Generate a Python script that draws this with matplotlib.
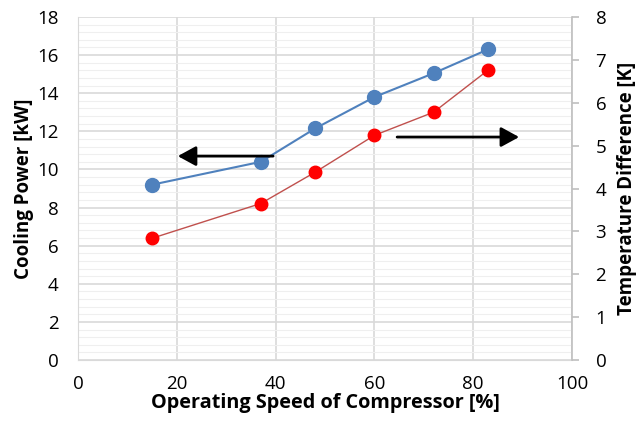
import matplotlib
matplotlib.use("Agg")
import matplotlib.pyplot as plt
from matplotlib.ticker import MultipleLocator
import numpy as np

plt.rcParams['font.family'] = ['Open Sans', 'DejaVu Sans']

# compressor speed [%]
speed = [15, 37, 48, 60, 72, 83]
# cooling power [kW] (left axis)
cooling_power = [9.2, 10.4, 12.15, 13.8, 15.05, 16.3]
# temperature difference [K] (right axis)
temp_diff = [2.84, 3.65, 4.38, 5.24, 5.78, 6.76]

xticks = [0, 20, 40, 60, 80, 100]
yticks_left = [0, 2, 4, 6, 8, 10, 12, 14, 16, 18]
yticks_right = [0, 1, 2, 3, 4, 5, 6, 7, 8]

grid_c = '#d9d9d9'
minor_c = '#efefef'

fig = plt.figure(figsize=(6.4, 4.3), dpi=100)
ax = fig.add_axes([78/640, 1 - 360/430, (572-78)/640, (360-17)/430])
ax2 = ax.twinx()

ax.set_xlim(0, 100)
ax.set_ylim(0, 18)
ax2.set_ylim(0, 8)
ax.set_xticks(xticks)
ax.set_yticks(yticks_left)
ax2.set_yticks(yticks_right)
ax.yaxis.set_minor_locator(MultipleLocator(0.4))

ax.grid(True, which='major', color=grid_c, lw=1.2)
ax.grid(True, which='minor', axis='y', color=minor_c, lw=0.8)
ax.set_axisbelow(True)

for a in (ax, ax2):
    for s in a.spines.values():
        s.set_visible(False)
ax.spines['left'].set_visible(True)
ax.spines['left'].set_color(grid_c)
ax.spines['bottom'].set_visible(True)
ax.spines['bottom'].set_color(grid_c)
ax2.spines['right'].set_visible(True)
ax2.spines['right'].set_color('#bfbfbf')
ax2.spines['right'].set_linewidth(1.2)

ax.tick_params(axis='both', which='both', length=0, labelsize=13.5, colors='black')
ax.tick_params(axis='x', pad=11)
ax.tick_params(axis='y', pad=14)
ax2.tick_params(axis='y', length=5, width=1.2, color='#bfbfbf', labelsize=13.5, pad=12)

ax.plot(speed, cooling_power, color='#4f81bd', lw=1.5, marker='o', ms=10,
        mfc='#4f81bd', mec='#4f81bd', zorder=3)
ax2.plot(speed, temp_diff, color='#c0504d', lw=1.0, marker='o', ms=9,
         mfc='#ff0000', mec='#ff0000', zorder=3)

ax.set_xlabel('Operating Speed of Compressor [%]', fontsize=14.3, fontweight='bold', labelpad=0)
ax.set_ylabel('Cooling Power [kW]', fontsize=13.5, fontweight='bold', labelpad=2)
ax2.set_ylabel('Temperature Difference [K]', fontsize=13.5, fontweight='bold', labelpad=8)

arrow = dict(arrowstyle='-|>,head_length=1.1,head_width=0.6', color='black', lw=2,
             shrinkA=0, shrinkB=0)
ax.annotate('', xy=(20.2, 10.7), xytext=(39.5, 10.7), arrowprops=arrow)
ax.annotate('', xy=(89.3, 11.7), xytext=(64.6, 11.7), arrowprops=arrow)

fig.savefig('out.png', dpi=100)
